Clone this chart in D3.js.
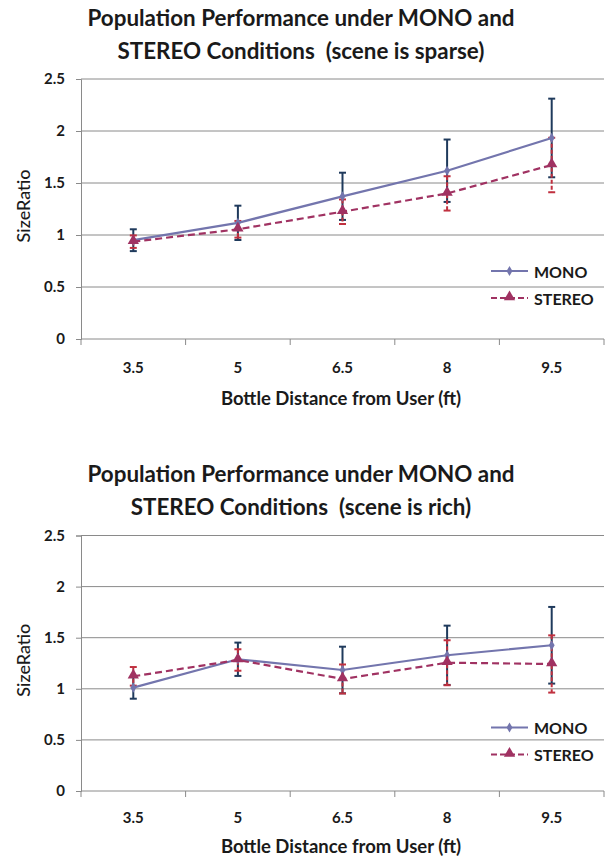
<!DOCTYPE html>
<html>
<head>
<meta charset="utf-8">
<script src="https://cdn.jsdelivr.net/npm/d3@7"></script>
<style>
  html, body { margin: 0; padding: 0; background: #ffffff; }
  svg { display: block; }
  text { font-family: Lato, "Open Sans", sans-serif; fill: #1a1a1a; white-space: pre; }
</style>
</head>
<body>
<script>
// ---- data ----
const categories = ["3.5", "5", "6.5", "8", "9.5"];
const yTicks = [0, 0.5, 1, 1.5, 2, 2.5];
const seriesNames = ["MONO", "STEREO"];

const sparseMono       = [0.95, 1.117, 1.372, 1.618, 1.933];
const sparseMonoErr    = [0.105, 0.165, 0.227, 0.30, 0.378];
const sparseStereo     = [0.936, 1.055, 1.224, 1.40, 1.673];
const sparseStereoErr  = [0.06, 0.08, 0.118, 0.165, 0.262];

const richMono         = [1.011, 1.289, 1.184, 1.328, 1.426];
const richMonoErr      = [0.108, 0.163, 0.228, 0.29, 0.375];
const richStereo       = [1.122, 1.282, 1.096, 1.255, 1.243];
const richStereoErr    = [0.091, 0.105, 0.142, 0.22, 0.28];

const titlesSparse = ["Population Performance under MONO and", "STEREO Conditions  (scene is sparse)"];
const titlesRich   = ["Population Performance under MONO and", "STEREO Conditions  (scene is rich)"];
const xTitle = "Bottle Distance from User (ft)";
const yTitle = "SizeRatio";

// ---- drawing ----
const W = 607, H = 859;
const svg = d3.select("body").append("svg").attr("width", W).attr("height", H);

const monoLine = "#7375AD", monoErr = "#1F3A5C";
const stLine = "#A03262", stErr = "#C0303F";
const gridCol = "#8A8A8A";

function drawChart(g, top, bottom, titles, mono, monoE, stereo, stereoE, xTickOff, xTitleOff) {
  const x = d3.scaleBand().domain(categories).range([81, 604]).padding(0);
  const y = d3.scaleLinear().domain([0, 2.5]).range([bottom, top]);
  const cx = c => x(c) + x.bandwidth() / 2;

  // title
  const tg = g.append("g");
  titles.forEach((t, i) => {
    tg.append("text").attr("x", 301).attr("y", top - 62 + i * 33)
      .attr("text-anchor", "middle").attr("dominant-baseline", "central")
      .style("font-size", "22.4px").style("font-weight", "bold").text(t);
  });

  // gridlines
  g.append("g").selectAll("line").data(yTicks.filter(v => v > 0)).join("line")
    .attr("x1", 81).attr("x2", 604).attr("y1", d => y(d)).attr("y2", d => y(d))
    .attr("stroke", gridCol).attr("stroke-width", 1);

  // y axis
  const ya = g.append("g").attr("transform", "translate(81,0)")
    .call(d3.axisLeft(y).tickValues(yTicks).tickSize(5).tickPadding(11).tickFormat(d3.format("")));
  ya.select(".domain").attr("stroke", gridCol);
  ya.selectAll(".tick line").attr("stroke", gridCol);
  ya.selectAll(".tick text").style("font-size", "15px").style("font-weight", "bold")
    .style("font-family", "Lato, sans-serif").attr("fill", "#1a1a1a");

  // x axis: ticks at category boundaries
  const xa = g.append("g").attr("transform", `translate(0,${bottom})`);
  xa.append("line").attr("x1", 81).attr("x2", 604).attr("stroke", gridCol);
  const bounds = categories.map(c => x(c)).concat([x(categories[categories.length - 1]) + x.bandwidth()]);
  xa.selectAll("line.tk").data(bounds).join("line").attr("class", "tk")
    .attr("x1", d => d).attr("x2", d => d).attr("y1", 0).attr("y2", 6).attr("stroke", gridCol);
  xa.selectAll("text").data(categories).join("text")
    .attr("x", d => cx(d)).attr("y", xTickOff).attr("text-anchor", "middle").attr("dominant-baseline", "central")
    .style("font-size", "15px").style("font-weight", "bold").text(d => d);

  // axis titles
  g.append("text").attr("x", 341).attr("y", bottom + xTitleOff).attr("text-anchor", "middle")
    .attr("dominant-baseline", "central").style("font-size", "18.5px").style("font-weight", "bold").text(xTitle);
  g.append("text").attr("transform", `translate(23,${(top + bottom) / 2 - 3}) rotate(-90)`)
    .attr("text-anchor", "middle").attr("dominant-baseline", "central")
    .style("font-size", "18px").style("font-weight", "500").text(yTitle);

  function errBars(vals, errs, col, dash) {
    const eg = g.append("g");
    vals.forEach((v, i) => {
      const c = cx(categories[i]);
      const y1 = y(v + errs[i]), y0 = y(v - errs[i]);
      eg.append("line").attr("x1", c).attr("x2", c).attr("y1", y1).attr("y2", y0)
        .attr("stroke", col).attr("stroke-width", 2).attr("stroke-dasharray", dash || null);
      [y1, y0].forEach(yy => eg.append("line").attr("x1", c - 3.5).attr("x2", c + 3.5)
        .attr("y1", yy).attr("y2", yy).attr("stroke", col).attr("stroke-width", 2));
    });
  }
  errBars(mono, monoE, monoErr);
  errBars(stereo, stereoE, stErr, "4,2");

  const line = d3.line().x((d, i) => cx(categories[i])).y(d => y(d));
  g.append("path").datum(mono).attr("d", line).attr("fill", "none")
    .attr("stroke", monoLine).attr("stroke-width", 2.2);
  g.append("path").datum(stereo).attr("d", line).attr("fill", "none")
    .attr("stroke", stLine).attr("stroke-width", 2.2).attr("stroke-dasharray", "7,4");

  const diamond = d3.symbol().type(d3.symbolDiamond).size(30);
  const tri = d3.symbol().type(d3.symbolTriangle).size(55);
  g.append("g").selectAll("path").data(mono).join("path").attr("d", diamond)
    .attr("transform", (d, i) => `translate(${cx(categories[i])},${y(d)})`).attr("fill", monoLine);
  g.append("g").selectAll("path").data(stereo).join("path").attr("d", tri)
    .attr("transform", (d, i) => `translate(${cx(categories[i])},${y(d) - 1})`).attr("fill", stLine);

  // legend
  const lg = g.append("g");
  const ly = [top + 192, top + 219];
  lg.append("line").attr("x1", 491).attr("x2", 528).attr("y1", ly[0]).attr("y2", ly[0])
    .attr("stroke", monoLine).attr("stroke-width", 2.2);
  lg.append("path").attr("d", diamond).attr("transform", `translate(509.5,${ly[0]})`).attr("fill", monoLine);
  lg.append("line").attr("x1", 491).attr("x2", 528).attr("y1", ly[1]).attr("y2", ly[1])
    .attr("stroke", stLine).attr("stroke-width", 2.2).attr("stroke-dasharray", "6,3");
  lg.append("path").attr("d", tri).attr("transform", `translate(509.5,${ly[1] - 1})`).attr("fill", stLine);
  seriesNames.forEach((n, i) => lg.append("text").attr("x", 534).attr("y", ly[i])
    .attr("dominant-baseline", "central").style("font-size", "16px").style("font-weight", "bold").text(n));
}

drawChart(svg.append("g"), 79, 339, titlesSparse, sparseMono, sparseMonoErr, sparseStereo, sparseStereoErr, 28, 59);
drawChart(svg.append("g"), 535.5, 791, titlesRich, richMono, richMonoErr, richStereo, richStereoErr, 26, 55);
</script>
</body>
</html>
